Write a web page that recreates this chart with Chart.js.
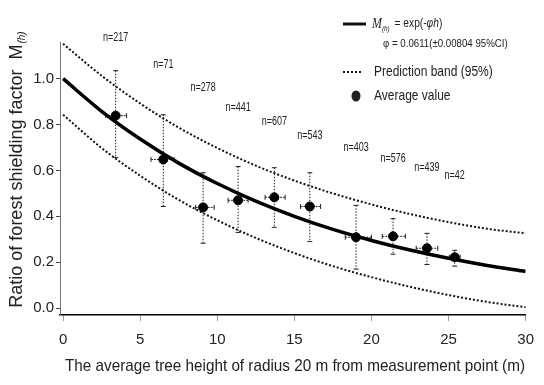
<!DOCTYPE html>
<html><head><meta charset="utf-8">
<script src="https://cdn.jsdelivr.net/npm/chart.js@4.4.1/dist/chart.umd.min.js"></script>
<style>html,body{margin:0;padding:0;background:#fff}canvas{display:block}</style>
</head><body>
<canvas id="c" width="544" height="385"></canvas>
<script>
// ---- data ----
const curveH    = [0, 2.5, 5, 7.5, 10, 12.5, 15, 17.5, 20, 22.5, 25, 27.5, 30];
const fitValues = [1.0, 0.858, 0.737, 0.632, 0.543, 0.466, 0.400, 0.343, 0.295, 0.253, 0.217, 0.186, 0.160];
const bandUpper = [1.152, 1.013, 0.892, 0.787, 0.698, 0.621, 0.556, 0.500, 0.452, 0.410, 0.375, 0.346, 0.326];
const bandLower = [0.843, 0.698, 0.577, 0.472, 0.383, 0.306, 0.240, 0.183, 0.135, 0.093, 0.057, 0.027, 0.004];

const meanH   = [3.41, 6.5, 9.08, 11.35, 13.7, 16.0, 19.0, 21.4, 23.6, 25.4];
const meanM   = [0.839, 0.648, 0.439, 0.470, 0.483, 0.443, 0.309, 0.313, 0.261, 0.222];
const mLow    = [0.657, 0.443, 0.283, 0.330, 0.352, 0.290, 0.170, 0.235, 0.190, 0.183];
const mHigh   = [1.035, 0.843, 0.590, 0.617, 0.612, 0.590, 0.448, 0.390, 0.326, 0.252];
const hLow    = [2.77, 5.7, 8.6, 10.7, 13.1, 15.4, 18.3, 20.7, 22.9, 25.05];
const hHigh   = [4.12, 7.2, 9.8, 12.0, 14.4, 16.7, 20.0, 22.2, 24.3, 25.75];
const nLabels = ['n=217','n=71','n=278','n=441','n=607','n=543','n=403','n=576','n=439','n=42'];
const nLabelM = [1.178, 1.061, 0.961, 0.874, 0.813, 0.752, 0.700, 0.652, 0.613, 0.578];
const xTicks  = [0, 5, 10, 15, 20, 25, 30];
const yTicks  = [0.0, 0.2, 0.4, 0.6, 0.8, 1.0];

const SANS = '"Liberation Sans", Arial, sans-serif';

const toXY = (xs, ys) => xs.map((x, i) => ({x, y: ys[i]}));

// draw horizontally condensed text (mimics a narrow face)
function nt(ctx, text, x, y, sx) {
  ctx.save();
  ctx.translate(x, y);
  ctx.scale(sx, 1);
  ctx.fillText(text, 0, 0);
  const w = ctx.measureText(text).width * sx;
  ctx.restore();
  return w;
}

const overlay = {
  id: 'overlay',
  beforeDatasetsDraw(chart) {
    const {ctx, scales: {x, y}} = chart;
    ctx.save();
    for (let i = 0; i < meanH.length; i++) {
      const px = x.getPixelForValue(meanH[i]);
      const py = y.getPixelForValue(meanM[i]);
      const yt = y.getPixelForValue(mHigh[i]);
      const yb = y.getPixelForValue(mLow[i]);
      ctx.strokeStyle = '#222';
      ctx.lineWidth = 1;
      ctx.setLineDash([1.5, 1.5]);
      ctx.beginPath(); ctx.moveTo(px, yt); ctx.lineTo(px, yb); ctx.stroke();
      ctx.setLineDash([]);
      ctx.beginPath();
      ctx.moveTo(px - 2.5, yt); ctx.lineTo(px + 2.5, yt);
      ctx.moveTo(px - 2.5, yb); ctx.lineTo(px + 2.5, yb);
      ctx.stroke();
      const xl = x.getPixelForValue(hLow[i]);
      const xr = x.getPixelForValue(hHigh[i]);
      ctx.setLineDash([2, 1]);
      ctx.beginPath(); ctx.moveTo(xl, py); ctx.lineTo(xr, py); ctx.stroke();
      ctx.setLineDash([]);
      ctx.beginPath();
      ctx.moveTo(xl, py - 2.5); ctx.lineTo(xl, py + 2.5);
      ctx.moveTo(xr, py - 2.5); ctx.lineTo(xr, py + 2.5);
      ctx.stroke();
    }
    ctx.restore();
  },
  afterDraw(chart) {
    const {ctx, scales: {x, y}} = chart;
    ctx.save();
    ctx.fillStyle = '#222';
    // n labels
    ctx.font = '12px ' + SANS;
    ctx.textAlign = 'center';
    ctx.textBaseline = 'middle';
    nLabels.forEach((t, i) => {
      nt(ctx, t, x.getPixelForValue(meanH[i]), y.getPixelForValue(nLabelM[i]), 0.75);
    });
    // x title
    ctx.font = '17px ' + SANS;
    ctx.textAlign = 'center';
    const xt = 'The average tree height of radius 20 m from measurement point (m)';
    const sxt = 460 / ctx.measureText(xt).width;
    nt(ctx, xt, 295, 366, sxt);
    // y title (rotated)
    ctx.save();
    ctx.translate(17, 170);
    ctx.rotate(-Math.PI / 2);
    ctx.textAlign = 'left';
    const main = 'Ratio of forest shielding factor  M';
    ctx.font = '18px ' + SANS;
    const w1 = ctx.measureText(main).width;
    ctx.font = 'italic 10px ' + SANS;
    const w2 = ctx.measureText('(h)').width;
    const tot = w1 + w2;
    ctx.font = '18px ' + SANS;
    ctx.fillText(main, -tot / 2, 0);
    ctx.font = 'italic 10px ' + SANS;
    ctx.fillText('(h)', -tot / 2 + w1 + 1, 5);
    ctx.restore();

    // legend
    ctx.textAlign = 'left';
    ctx.textBaseline = 'middle';
    ctx.strokeStyle = '#111';
    ctx.lineWidth = 3;
    ctx.beginPath(); ctx.moveTo(343, 24); ctx.lineTo(366, 24); ctx.stroke();
    let lx = 372;
    ctx.font = 'italic 14px "Liberation Serif", serif';
    lx += nt(ctx, 'M', lx, 24, 0.85);
    ctx.font = 'italic 8px ' + SANS;
    lx += nt(ctx, '(h)', lx, 29, 0.8) + 2;
    ctx.font = '12px ' + SANS;
    lx += nt(ctx, ' = exp(-', lx, 24, 0.85);
    ctx.font = 'italic 12px ' + SANS;
    lx += nt(ctx, 'φh', lx, 24, 0.85);
    ctx.font = '12px ' + SANS;
    nt(ctx, ')', lx, 24, 0.85);
    ctx.font = '11px ' + SANS;
    nt(ctx, 'φ = 0.0611(±0.00804 95%CI)', 383, 44, 0.88);

    ctx.lineWidth = 2;
    ctx.setLineDash([2, 2]);
    ctx.beginPath(); ctx.moveTo(343, 72); ctx.lineTo(363, 72); ctx.stroke();
    ctx.setLineDash([]);
    ctx.font = '15px ' + SANS;
    nt(ctx, 'Prediction band (95%)', 374, 72, 0.8);
    ctx.beginPath(); ctx.ellipse(356, 96, 4.5, 5.5, 0, 0, Math.PI * 2); ctx.fill();
    nt(ctx, 'Average value', 374, 96, 0.8);
    ctx.restore();
  }
};

new Chart(document.getElementById('c'), {
  type: 'scatter',
  data: {
    datasets: [
      { label: 'fit', data: toXY(curveH, fitValues), showLine: true, borderColor: '#000',
        borderWidth: 3.5, pointRadius: 0, cubicInterpolationMode: 'monotone', order: 2 },
      { label: 'upper', data: toXY(curveH, bandUpper), showLine: true, borderColor: '#111',
        borderWidth: 2, borderDash: [2, 2], pointRadius: 0, cubicInterpolationMode: 'monotone', order: 3 },
      { label: 'lower', data: toXY(curveH, bandLower), showLine: true, borderColor: '#111',
        borderWidth: 2, borderDash: [2, 2], pointRadius: 0, cubicInterpolationMode: 'monotone', order: 3 },
      { label: 'mean', data: toXY(meanH, meanM), showLine: false, backgroundColor: '#000',
        borderColor: '#000', pointRadius: 4.5, order: 1 }
    ]
  },
  options: {
    responsive: false,
    animation: false,
    layout: { padding: { left: 0, right: 15, top: 42, bottom: 0 } },
    plugins: { legend: { display: false }, tooltip: { enabled: false } },
    scales: {
      x: {
        type: 'linear', min: -0.2, max: 30,
        afterBuildTicks: s => { s.ticks = xTicks.map(v => ({value: v})); },
        afterFit: s => { s.height = 70; },
        grid: { display: true, drawOnChartArea: false, drawTicks: true, tickLength: 6,
                color: '#444', tickBorderDash: [1, 1], tickWidth: 1 },
        border: { display: true, color: '#000', width: 1.5 },
        ticks: { color: '#222', font: { size: 15, family: SANS }, padding: 10 }
      },
      y: {
        type: 'linear', min: -0.03, max: 1.16,
        afterBuildTicks: s => { s.ticks = yTicks.map(v => ({value: v})); },
        afterFit: s => { s.width = 60; },
        grid: { display: true, drawOnChartArea: false, drawTicks: true, tickLength: 4,
                color: '#444', tickWidth: 1 },
        border: { display: true, color: '#777', width: 1, dash: [1, 1] },
        ticks: { color: '#222', font: { size: 15, family: SANS }, padding: 2,
                 callback: v => v.toFixed(1) }
      }
    }
  },
  plugins: [overlay]
});
</script>
</body></html>
